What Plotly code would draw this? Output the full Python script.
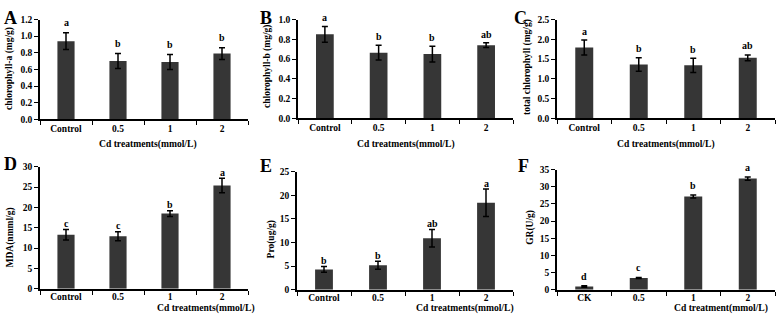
import plotly.graph_objects as go

W, H = 777, 319

# ---------------- data ----------------
cats_cd = ["Control", "0.5", "1", "2"]
cats_gr = ["CK", "0.5", "1", "2"]

chl_a = [0.94, 0.70, 0.69, 0.79]
chl_a_err = [0.10, 0.09, 0.09, 0.07]
chl_a_sig = ["a", "b", "b", "b"]

chl_b = [0.85, 0.665, 0.65, 0.74]
chl_b_err = [0.08, 0.075, 0.08, 0.024]
chl_b_sig = ["a", "b", "b", "ab"]

chl_t = [1.79, 1.36, 1.34, 1.53]
chl_t_err = [0.19, 0.17, 0.18, 0.075]
chl_t_sig = ["a", "b", "b", "ab"]

mda = [13.3, 12.9, 18.5, 25.4]
mda_err = [1.3, 1.1, 0.7, 1.8]
mda_sig = ["c", "c", "b", "a"]

pro = [4.3, 5.2, 10.9, 18.4]
pro_err = [0.6, 0.85, 1.85, 2.9]
pro_sig = ["b", "b", "ab", "a"]

gr = [0.95, 3.45, 27.2, 32.4]
gr_err = [0.2, 0.15, 0.45, 0.45]
gr_sig = ["d", "c", "b", "a"]

y_titles = ["chlorophyll-a (mg/g)", "chlorophyll-b (mg/g)", "total chlorophyll (mg/g)",
            "MDA(nmml/g)", "Pro(ug/g)", "GR(U/g)"]
x_titles = ["Cd treatments(mmol/L)", "Cd treatments(mmol/L)", "Cd treatments(mmol/L)",
            "Cd treatments(mmol/L)", "Cd treatments(mmol/L)", "Cd treatment(mmol/L)"]
panel_labels = ["A", "B", "C", "D", "E", "F"]
y_max = [1.2, 1.0, 2.5, 30, 25, 35]
y_dtick = [0.2, 0.2, 0.5, 5, 5, 5]
y_fmt = [".1f", ".1f", ".1f", "d", "d", "d"]

panels = [
    (cats_cd, chl_a, chl_a_err, chl_a_sig),
    (cats_cd, chl_b, chl_b_err, chl_b_sig),
    (cats_cd, chl_t, chl_t_err, chl_t_sig),
    (cats_cd, mda, mda_err, mda_sig),
    (cats_cd, pro, pro_err, pro_sig),
    (cats_gr, gr, gr_err, gr_sig),
]

# ---------------- layout (pixel geometry) ----------------
boxes = [
    (40, 248, 15, 118),
    (298, 513, 15, 117),
    (557, 775, 15, 117),
    (40, 248, 167, 293),
    (297, 513, 172, 294),
    (557, 775, 170, 294),
]
ytitle_pos = [(10, 66), (268, 64), (528, 64), (10, 240), (271, 242), (531, 230)]
xtitle_pos = [(148, 143), (406, 143), (666, 143), (206, 313), (465, 313), (721, 313)]
label_pos = [(2, 1), (258, 1), (512, 1), (2, 152), (258, 154), (516, 154)]
letter_shift = [10, 8.5, 9, 6, 6, 9.5]
tick_standoff = [0, 0, 0, -2, -2, -2]

FONT = "Liberation Serif"
BAR = "#363636"

fig = go.Figure()
annotations = []

for i, (cats, vals, errs, sigs) in enumerate(panels):
    n = i + 1
    xa = "x" if n == 1 else f"x{n}"
    ya = "y" if n == 1 else f"y{n}"
    fig.add_trace(go.Bar(
        x=cats, y=vals, xaxis=xa, yaxis=ya,
        marker=dict(color=BAR, line=dict(width=0)),
        width=0.33,
        error_y=dict(type="data", array=errs, visible=True, color="black",
                     thickness=1.5, width=3),
        showlegend=False, hoverinfo="skip",
    ))
    x0, x1, yt, yb = boxes[i]
    xkey = "xaxis" if n == 1 else f"xaxis{n}"
    ykey = "yaxis" if n == 1 else f"yaxis{n}"
    fig.layout[xkey] = dict(
        domain=[x0 / W, x1 / W], anchor=ya, type="category",
        showline=True, linecolor="black", linewidth=1.5,
        ticks="outside", ticklen=4, tickwidth=1.3, tickcolor="black",
        tickson="boundaries", showgrid=False, zeroline=False,
        ticklabelstandoff=tick_standoff[i],
        tickfont=dict(family=FONT, size=9.5, color="black", weight="bold"),
        range=[-0.5, 3.5], fixedrange=True,
    )
    fig.layout[ykey] = dict(
        domain=[1 - yb / H, 1 - yt / H], anchor=xa,
        range=[0, y_max[i]], dtick=y_dtick[i], tick0=0, tickformat=y_fmt[i],
        showline=True, linecolor="black", linewidth=1.5,
        ticks="outside", ticklen=4, tickwidth=1.3, tickcolor="black",
        showgrid=False, zeroline=False,
        tickfont=dict(family=FONT, size=9.5, color="black", weight="bold"),
        fixedrange=True,
    )
    for j, (v, e, s) in enumerate(zip(vals, errs, sigs)):
        annotations.append(dict(
            x=j, y=v + e, xref=xa, yref=ya, text=s, showarrow=False,
            yanchor="middle", yshift=letter_shift[i],
            font=dict(family=FONT, size=10, color="black", weight="bold"),
        ))
    tx, ty = ytitle_pos[i]
    annotations.append(dict(
        x=tx / W, y=1 - ty / H, xref="paper", yref="paper", text=y_titles[i],
        textangle=-90, showarrow=False, xanchor="center", yanchor="middle",
        font=dict(family=FONT, size=9.5, color="black", weight="bold"),
    ))
    tx, ty = xtitle_pos[i]
    annotations.append(dict(
        x=tx / W, y=1 - ty / H, xref="paper", yref="paper", text=x_titles[i],
        showarrow=False, xanchor="center", yanchor="middle",
        font=dict(family=FONT, size=9.6, color="black", weight="bold"),
    ))
    lx, ly = label_pos[i]
    annotations.append(dict(
        x=lx / W, y=1 - ly / H, xref="paper", yref="paper", text=panel_labels[i],
        showarrow=False, xanchor="left", yanchor="top",
        font=dict(family=FONT, size=18, color="black", weight="bold"),
    ))

fig.update_layout(
    width=W, height=H, margin=dict(l=0, r=0, t=0, b=0),
    paper_bgcolor="white", plot_bgcolor="white",
    annotations=annotations,
)

fig.write_html(
    "out.html",
    config={"displayModeBar": False},
    post_script="document.body.style.margin='0';document.body.style.overflow='hidden';",
)
